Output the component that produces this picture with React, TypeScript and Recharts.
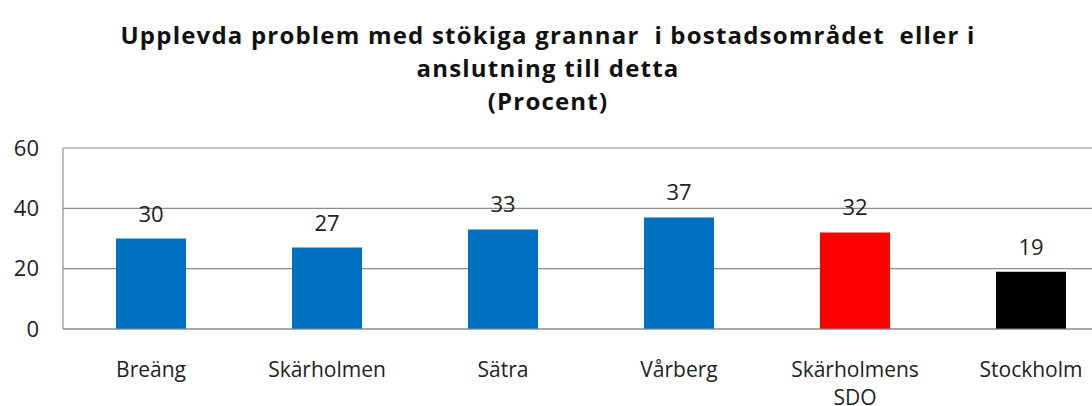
import React from "react";
import { BarChart, Bar, XAxis, YAxis, CartesianGrid, Cell, LabelList } from "recharts";

const areas = ["Breäng", "Skärholmen", "Sätra", "Vårberg", "Skärholmens\nSDO", "Stockholm"];
const percent = [30, 27, 33, 37, 32, 19];
const barColors = ["#0070C0", "#0070C0", "#0070C0", "#0070C0", "#FF0000", "#000000"];
const yTicks = [0, 20, 40, 60];
const titleLines = [
  "Upplevda problem med stökiga grannar  i bostadsområdet  eller i",
  "anslutning till detta",
  "(Procent)",
];

const data = areas.map((name, i) => ({ name, value: percent[i] }));

const font = "'Open Sans', sans-serif";

function AreaTick(props: any) {
  const { x, y, payload } = props;
  const lines = String(payload.value).split("\n");
  return (
    <g transform={`translate(${x},${y})`}>
      {lines.map((line, i) => (
        <text key={i} x={0} y={40 + i * 28} textAnchor="middle" fill="#222" fontSize={21} fontFamily={font}>
          {line}
        </text>
      ))}
    </g>
  );
}

export default function App() {
  return (
    <div style={{ position: "relative", width: 1092, height: 406, overflow: "hidden", background: "#fff" }}>
      <style>{"body{margin:0}"}</style>
      <div
        style={{
          position: "absolute",
          left: 0,
          top: 18,
          width: 1096,
          textAlign: "center",
          fontFamily: font,
          fontWeight: 700,
          fontSize: 24,
          letterSpacing: 1.2,
          lineHeight: "33px",
          color: "#111",
          whiteSpace: "pre",
        }}
      >
        {titleLines.map((t, i) => (
          <div key={i}>{t}</div>
        ))}
      </div>
      <BarChart
        width={1125}
        height={406}
        data={data}
        margin={{ top: 148, right: 6, bottom: 0, left: 0 }}
        barCategoryGap={0}
      >
        <CartesianGrid vertical={false} stroke="#8c8c8c" strokeWidth={1.2} />
        <XAxis
          dataKey="name"
          height={77}
          axisLine={{ stroke: "#8c8c8c", strokeWidth: 1.2 }}
          tickLine={false}
          interval={0}
          tick={<AreaTick />}
        />
        <YAxis
          width={63}
          domain={[0, 60]}
          ticks={yTicks}
          axisLine={{ stroke: "#8c8c8c", strokeWidth: 1.2 }}
          tickLine={false}
          tickSize={0}
          tickMargin={24}
          tick={{ fill: "#222", fontSize: 22, fontFamily: font }}
        />
        <Bar dataKey="value" barSize={70} isAnimationActive={false}>
          {data.map((d, i) => (
            <Cell key={d.name} fill={barColors[i]} />
          ))}
          <LabelList dataKey="value" position="top" offset={17} fill="#222" fontSize={22} fontFamily={font} />
        </Bar>
      </BarChart>
    </div>
  );
}
